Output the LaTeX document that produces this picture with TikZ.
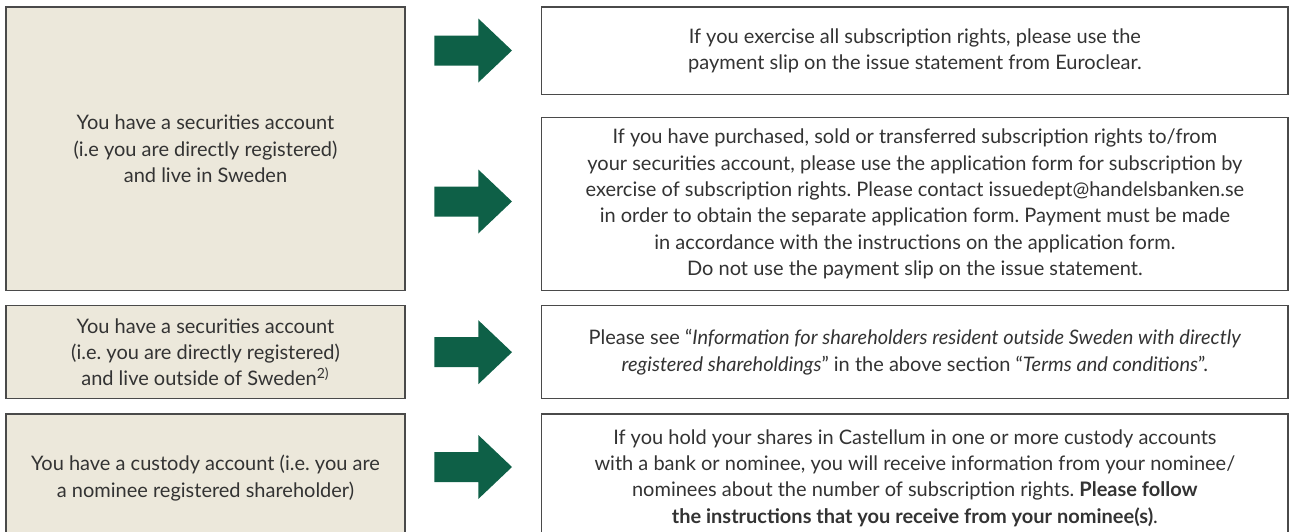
\documentclass[tikz,border=0pt]{standalone}
\usepackage{fontspec}
\setmainfont{Lato}
\frenchspacing
\definecolor{beige}{HTML}{ECE8DB}
\definecolor{arrowgreen}{HTML}{0E6047}
\definecolor{boxline}{HTML}{4A4A4A}
\definecolor{ink}{HTML}{333333}

\begin{document}
\begin{tikzpicture}[x=0.5pt,y=-0.5pt]
\tikzstyle{every node}+=[inner sep=0pt]
\tikzstyle{sitbox}=[draw=boxline, fill=beige, line width=0.55pt, minimum width=199.5pt, align=center, text=ink, font=\fontsize{10}{13.2}\selectfont]
\tikzstyle{resbox}=[sitbox, fill=white, minimum width=373.15pt]
\tikzstyle{arrowfill}=[fill=arrowgreen]
\clip (0,0) rectangle (1292,531);
\node [sitbox, minimum height=141.75pt] (sit1) at (205.5,148.75) {You have a securities account\\(i.e you are directly registered)\\and live in Sweden};
\node [sitbox, minimum height=46.5pt] (sit2) at (205.5,352.2) {You have a securities account\\(i.e. you are directly registered)\\and live outside of Sweden\textsuperscript{2)}};
\node [sitbox, minimum height=64pt] (sit3) at (205.5,478) {You have a custody account (i.e. you are\\a nominee registered shareholder)};
\node [resbox, minimum height=43.85pt] (resA) at (914.85,50.85) {If you exercise all subscription rights, please use the\\payment slip on the issue statement from Euroclear.};
\node [resbox, minimum height=86.4pt] (resB) at (914.85,204.1) {If you have purchased, sold or transferred subscription rights to/from\\your securities account, please use the application form for subscription by\\exercise of subscription rights. Please contact issuedept@handelsbanken.se\\in order to obtain the separate application form. Payment must be made\\in accordance with the instructions on the application form.\\Do not use the payment slip on the issue statement.};
\node [resbox, minimum height=46.5pt] (resC) at (914.85,352.2) {Please see “\textit{Information for shareholders resident outside Sweden with directly}\\\textit{registered shareholdings}” in the above section “\textit{Terms and conditions}”.};
\node [resbox, minimum height=64pt] (resD) at (914.85,478) {If you hold your shares in Castellum in one or more custody accounts\\with a bank or nominee, you will receive information from your nominee/\\nominees about the number of subscription rights. \textbf{Please follow}\\\textbf{the instructions that you receive from your nominee(s)}.};
\coordinate (a1) at (434.3,50.5);
\coordinate (a2) at (434.3,201.5);
\coordinate (a3) at (434.3,352.2);
\coordinate (a4) at (434.3,467);
\foreach \a in {a1,a2,a3,a4}
  \fill [arrowfill] (\a) ++(0,-15) -- ++(44,0) -- ++(0,-17) -- ++(33.7,32) -- ++(-33.7,32) -- ++(0,-17) -- ++(-44,0) -- cycle;
\end{tikzpicture}
\end{document}
